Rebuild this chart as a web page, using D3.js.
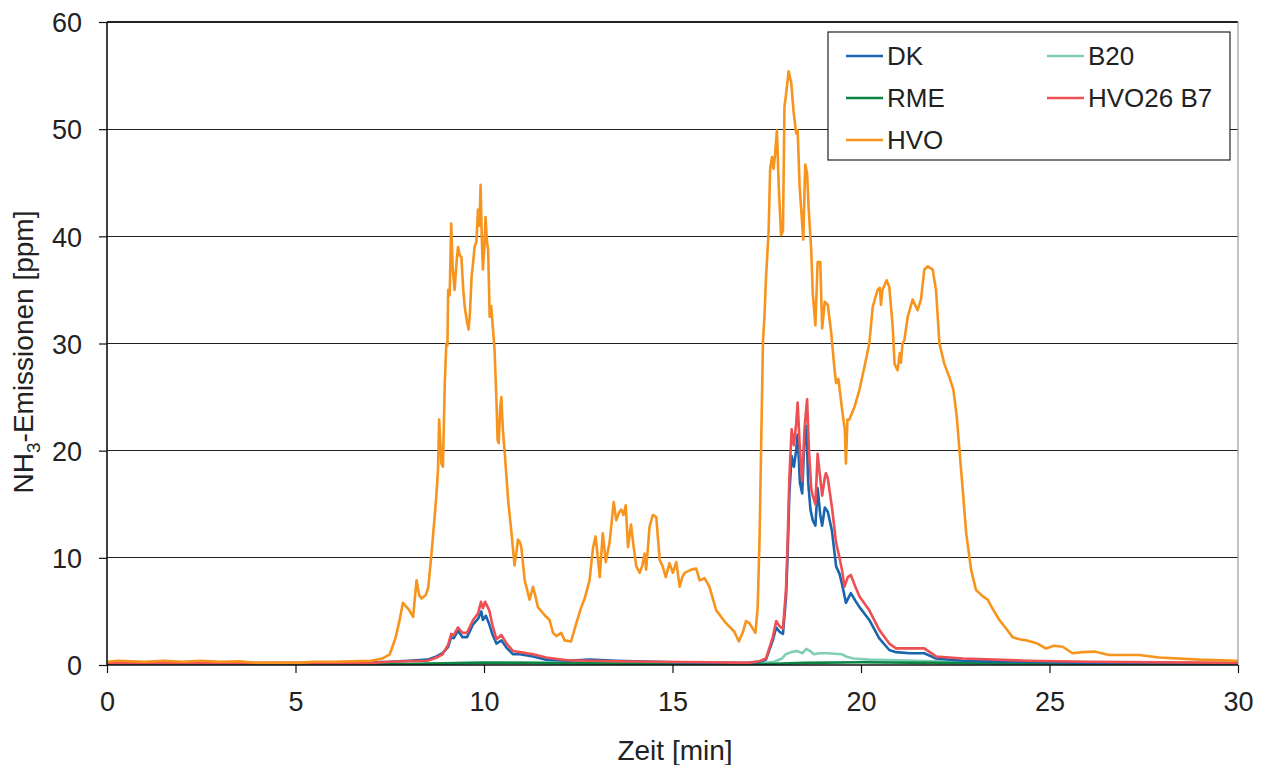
<!DOCTYPE html>
<html><head><meta charset="utf-8">
<script src="https://cdn.jsdelivr.net/npm/d3@7"></script>
<style>
body{margin:0;background:#fff;}
text{font-family:"Liberation Sans",Arial,sans-serif;fill:#222;}
</style></head>
<body><svg id="c" width="1263" height="765"></svg>
<script>
const xTicks=[0,5,10,15,20,25,30];
const yTicks=[0,10,20,30,40,50,60];
const seriesNames=["DK","B20","RME","HVO26 B7","HVO"];
const seriesColors={"DK":"#1a65b0","RME":"#0a8542","HVO":"#f7941d","B20":"#80cfb4","HVO26 B7":"#ee4f52"};

const dk=[[0,0.2],[2,0.2],[4,0.15],[6,0.2],[7,0.25],[7.5,0.3],[8.0,0.4],[8.5,0.5],[8.74,0.8],[8.9,1.1],[9.05,1.7],[9.13,2.6],[9.2,2.5],[9.31,3.2],[9.43,2.6],[9.55,2.6],[9.71,3.8],[9.84,4.3],[9.93,5.0],[9.97,4.2],[10.05,4.6],[10.14,3.8],[10.22,2.9],[10.33,2.0],[10.46,2.3],[10.6,1.6],[10.77,1.0],[10.95,1.0],[11.3,0.8],[11.65,0.5],[12.2,0.4],[12.8,0.5],[13.5,0.4],[14,0.35],[15,0.25],[16,0.2],[17,0.2],[17.3,0.3],[17.48,0.5],[17.66,2.3],[17.75,3.5],[17.84,3.1],[17.93,2.9],[18.01,6.3],[18.05,9.9],[18.1,16],[18.16,19.5],[18.22,18.5],[18.28,20],[18.32,21.5],[18.38,17],[18.44,16],[18.5,21],[18.55,22.3],[18.6,17],[18.66,14.5],[18.72,13.5],[18.79,13],[18.85,16.5],[18.92,14],[18.97,13],[19.04,14.7],[19.12,14.3],[19.23,12.5],[19.34,9.2],[19.43,8.5],[19.5,7.5],[19.6,5.8],[19.73,6.7],[19.85,6.0],[19.96,5.4],[20.22,4.2],[20.48,2.5],[20.75,1.4],[20.93,1.2],[21.29,1.1],[21.68,1.1],[21.99,0.6],[22.7,0.4],[24.4,0.3],[26,0.2],[30,0.15]];

const b20=[[0,0.1],[8,0.1],[9,0.15],[10,0.25],[12,0.2],[15,0.15],[17.3,0.15],[17.7,0.3],[17.9,0.6],[18.0,1.0],[18.15,1.2],[18.3,1.3],[18.45,1.1],[18.55,1.5],[18.65,1.3],[18.75,1.0],[18.9,1.1],[19.1,1.1],[19.3,1.05],[19.5,1.0],[19.6,0.8],[19.8,0.6],[20.2,0.5],[21,0.45],[22,0.35],[24,0.25],[26,0.15],[30,0.1]];

const rme=[[0,0.05],[7,0.05],[8,0.1],[9,0.15],[10,0.2],[11,0.2],[12.5,0.15],[15,0.1],[17.5,0.1],[18.5,0.2],[20,0.25],[22,0.2],[24,0.15],[27,0.1],[30,0.05]];

const hvo26b7=[[0,0.2],[7,0.2],[7.5,0.3],[8.0,0.35],[8.5,0.4],[8.74,0.7],[8.9,1.0],[9.05,1.9],[9.13,2.9],[9.2,2.8],[9.31,3.5],[9.43,3.0],[9.55,3.0],[9.71,4.2],[9.84,4.8],[9.92,5.9],[9.97,5.3],[10.03,5.9],[10.14,5.1],[10.22,3.8],[10.33,2.4],[10.46,2.8],[10.6,2.0],[10.77,1.3],[10.95,1.2],[11.3,1.0],[11.65,0.7],[12.2,0.45],[12.8,0.4],[13.5,0.35],[14.5,0.3],[16,0.25],[17,0.2],[17.3,0.35],[17.48,0.6],[17.66,2.6],[17.75,4.1],[17.84,3.6],[17.93,3.4],[18.01,7],[18.05,11],[18.1,17.5],[18.16,22],[18.22,20.5],[18.28,22.5],[18.32,24.5],[18.38,20],[18.44,17.2],[18.5,22],[18.57,24.8],[18.62,20],[18.68,16.5],[18.72,15.8],[18.79,15],[18.85,19.7],[18.9,18],[18.97,15.8],[19.04,17.5],[19.07,17.9],[19.12,17.4],[19.23,14.7],[19.34,11.4],[19.43,10],[19.5,8.8],[19.56,7.3],[19.65,8.2],[19.73,8.4],[19.85,7.3],[19.96,6.4],[20.22,5.1],[20.48,3.3],[20.75,2.0],[20.93,1.55],[21.29,1.55],[21.68,1.55],[21.99,0.8],[22.7,0.6],[24.4,0.4],[26,0.3],[30,0.2]];

const hvo=[[0,0.3],[0.3,0.4],[1.0,0.3],[1.5,0.4],[2.0,0.3],[2.5,0.4],[3.0,0.3],[3.5,0.35],[4.0,0.2],[5.0,0.2],[5.5,0.3],[6.0,0.3],[6.5,0.35],[7.0,0.4],[7.3,0.6],[7.5,1.0],[7.65,2.5],[7.75,4.0],[7.85,5.8],[8.0,5.2],[8.12,4.5],[8.21,7.9],[8.28,6.5],[8.34,6.2],[8.45,6.5],[8.52,7.2],[8.6,10.1],[8.69,13.8],[8.74,16],[8.78,18.2],[8.81,22.9],[8.84,21],[8.87,18.8],[8.91,18.5],[8.96,26.3],[9.0,30],[9.03,29.8],[9.05,35],[9.09,34.5],[9.13,41.2],[9.17,37],[9.22,35],[9.27,37.5],[9.31,39],[9.36,38.2],[9.4,38.1],[9.45,35],[9.49,33.4],[9.55,32],[9.59,31.3],[9.63,33],[9.67,36.2],[9.71,37.5],[9.75,39],[9.8,39.5],[9.84,42.5],[9.88,41],[9.91,44.8],[9.94,40],[9.97,36.9],[10.01,39],[10.04,41.8],[10.08,39.5],[10.11,38.7],[10.15,32.5],[10.19,33.5],[10.22,32.2],[10.28,29.4],[10.33,24.7],[10.36,21],[10.39,20.7],[10.43,24],[10.46,25],[10.5,22],[10.55,19.8],[10.64,15.4],[10.73,12.3],[10.81,9.3],[10.86,10.5],[10.9,11.7],[10.95,11.5],[10.99,11],[11.08,7.9],[11.21,6.1],[11.3,7.3],[11.36,6.5],[11.43,5.4],[11.55,4.9],[11.65,4.5],[11.74,4.2],[11.83,3.0],[11.92,2.7],[12.05,3.0],[12.14,2.3],[12.31,2.2],[12.45,3.9],[12.58,5.4],[12.67,6.2],[12.8,7.9],[12.89,10.9],[12.96,12],[13.02,10],[13.07,8.2],[13.15,12.3],[13.23,9.6],[13.33,11.4],[13.44,15.2],[13.51,13.5],[13.58,14.2],[13.64,14.5],[13.7,14],[13.76,14.9],[13.82,11],[13.9,13.1],[13.97,11],[14.04,9.2],[14.13,8.6],[14.2,9.3],[14.26,10.4],[14.3,8.9],[14.35,11],[14.39,12.9],[14.48,14],[14.57,13.8],[14.66,9.8],[14.74,9.2],[14.82,8.2],[14.92,9.5],[15.01,8.6],[15.1,9.6],[15.19,7.3],[15.26,8.2],[15.32,8.6],[15.5,8.9],[15.63,9.0],[15.72,7.9],[15.85,8.1],[15.98,7.3],[16.16,5.1],[16.42,3.9],[16.64,3.1],[16.76,2.2],[16.87,3.1],[16.95,4.1],[17.04,3.9],[17.2,3.0],[17.26,5.4],[17.31,12],[17.35,20.1],[17.4,30.3],[17.44,32.5],[17.48,36.1],[17.55,40.5],[17.59,46.3],[17.64,47.4],[17.68,46.3],[17.72,47.6],[17.77,49.9],[17.82,44.5],[17.88,40.1],[17.93,40.5],[17.97,52.1],[18.01,53.2],[18.08,55.4],[18.15,54.3],[18.21,51.7],[18.28,49.6],[18.32,49.9],[18.37,44.8],[18.41,42.7],[18.47,39.7],[18.52,46.7],[18.57,45.9],[18.61,42.7],[18.68,38.7],[18.72,34.7],[18.79,31.7],[18.85,37.6],[18.92,37.6],[18.97,31.4],[19.04,33.9],[19.12,33.6],[19.21,31.0],[19.3,27.5],[19.34,26.3],[19.4,26.7],[19.51,23.5],[19.57,22],[19.6,18.8],[19.64,22.9],[19.69,22.9],[19.83,24.1],[19.96,25.7],[20.09,27.8],[20.22,30.0],[20.31,33.4],[20.44,35.0],[20.5,35.2],[20.53,33.6],[20.57,35],[20.68,35.9],[20.75,35.3],[20.84,31.6],[20.89,28.1],[20.97,27.5],[21.03,29.1],[21.06,28.2],[21.1,30],[21.15,30.3],[21.24,32.5],[21.37,34.1],[21.5,33.1],[21.59,34.1],[21.68,36.9],[21.77,37.2],[21.9,36.9],[21.99,35.0],[22.08,30.0],[22.21,28.1],[22.34,26.9],[22.45,25.7],[22.54,23.2],[22.61,20.1],[22.7,16.3],[22.79,12.3],[22.92,8.9],[23.05,7.0],[23.23,6.4],[23.36,6.1],[23.5,5.2],[23.67,4.2],[23.85,3.4],[24.02,2.6],[24.2,2.4],[24.38,2.3],[24.68,2.0],[24.9,1.55],[25.12,1.8],[25.35,1.7],[25.61,1.1],[25.88,1.2],[26.19,1.25],[26.58,0.93],[27.38,0.93],[27.91,0.7],[28.97,0.5],[29.94,0.4],[30,0.4]];

const seriesData={"DK":dk,"B20":b20,"RME":rme,"HVO26 B7":hvo26b7,"HVO":hvo};
const drawOrder=["B20","RME","DK","HVO26 B7","HVO"];
const legendRows=[["DK","B20"],["RME","HVO26 B7"],["HVO",null]];

const svg=d3.select("#c");
const L=107,R=1238,T=22,B=665;
const x=d3.scaleLinear().domain([0,30]).range([L,R]);
const y=d3.scaleLinear().domain([0,60]).range([B,T]);

// gridlines
svg.append("g").selectAll("line").data(yTicks.filter(d=>d>0)).join("line")
 .attr("x1",L).attr("x2",R).attr("y1",d=>y(d)).attr("y2",d=>y(d))
 .attr("stroke","#222").attr("stroke-width",1.2).attr("shape-rendering","crispEdges");
// right border
svg.append("line").attr("x1",R).attr("x2",R).attr("y1",T).attr("y2",B).attr("stroke","#999").attr("stroke-width",1.2);

svg.append("clipPath").attr("id","clip").append("rect").attr("x",L).attr("y",T-2).attr("width",R-L+1).attr("height",B-T+2);

const line=d3.line().x(d=>x(d[0])).y(d=>y(d[1]));
const g=svg.append("g").attr("clip-path","url(#clip)");
drawOrder.forEach(n=>{
  g.append("path").datum(seriesData[n]).attr("d",line).attr("fill","none")
   .attr("stroke",seriesColors[n]).attr("stroke-width",2.6).attr("stroke-linejoin","round");
});

// axes
const xAxis=d3.axisBottom(x).tickValues(xTicks).tickSize(8).tickPadding(19);
const yAxis=d3.axisLeft(y).tickValues(yTicks).tickSize(8).tickPadding(17);
const gx=svg.append("g").attr("transform",`translate(0,${B})`).call(xAxis);
const gy=svg.append("g").attr("transform",`translate(${L},0)`).call(yAxis);
[gx,gy].forEach(a=>{
  a.select(".domain").attr("stroke","#111").attr("stroke-width",1.6);
  a.selectAll(".tick line").attr("stroke","#111").attr("stroke-width",1.2);
  a.selectAll(".tick text").attr("font-size",27).attr("fill","#222").style("font-family","'Liberation Sans',Arial,sans-serif");
});
gy.select(".domain").attr("d",`M0,${B}V${T}`);
gx.select(".domain").attr("d",`M${L},0H${R}`);
gy.selectAll(".tick text").attr("dy","0.36em");

// axis titles
svg.append("text").attr("x",675).attr("y",760).attr("text-anchor","middle").attr("font-size",28).text("Zeit [min]");
const yt=svg.append("text").attr("transform",`translate(33,352) rotate(-90)`).attr("text-anchor","middle").attr("font-size",28);
yt.append("tspan").text("NH");
yt.append("tspan").attr("font-size",19).attr("dy",7).text("3");
yt.append("tspan").attr("dy",-7).text("-Emissionen [ppm]");

// legend
const lg=svg.append("g");
lg.append("rect").attr("x",828).attr("y",32).attr("width",402).attr("height",128).attr("fill","#fff").attr("stroke","#222").attr("stroke-width",1.2);
const colX=[846,1047], rowY=[56,98,140];
legendRows.forEach((row,ri)=>row.forEach((n,ci)=>{
  if(!n) return;
  lg.append("line").attr("x1",colX[ci]).attr("x2",colX[ci]+37).attr("y1",rowY[ri]).attr("y2",rowY[ri]).attr("stroke",seriesColors[n]).attr("stroke-width",2.6);
  lg.append("text").attr("x",colX[ci]+41).attr("y",rowY[ri]).attr("dy","0.36em").attr("font-size",26).text(n);
}));
</script></body></html>
